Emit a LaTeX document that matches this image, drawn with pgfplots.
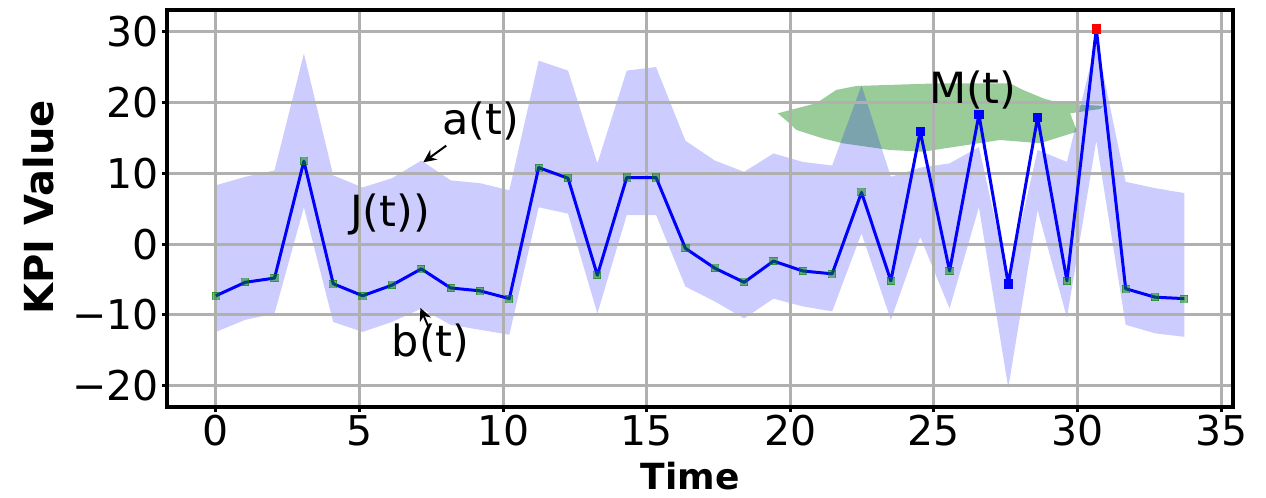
\documentclass[border=0pt]{standalone}
\usepackage{fontspec}
\setmainfont{DejaVu Sans}
\usepackage{pgfplots}
\pgfplotsset{compat=1.18}
\usepackage{pgfplotstable}
\usepgfplotslibrary{fillbetween}
\usetikzlibrary{arrows.meta}

\pgfplotstableread{
x y up lo
0.0000 -7.3 8.3 -12.4
1.0217 -5.4 9.5 -10.7
2.0434 -4.8 10.4 -9.8
3.0651 11.7 26.9 5.2
4.0868 -5.6 9.7 -11.0
5.1085 -7.3 8.0 -12.4
6.1302 -5.8 9.3 -11.0
7.1519 -3.5 11.8 -9.1
8.1736 -6.2 9.0 -11.4
9.1953 -6.6 8.6 -12.1
10.2170 -7.7 7.6 -12.8
11.2387 10.8 25.9 5.2
12.2604 9.3 24.5 4.3
13.2821 -4.4 11.4 -9.8
14.3038 9.4 24.5 4.1
15.3255 9.4 25.0 4.1
16.3472 -0.6 14.6 -6.0
17.3689 -3.4 11.8 -8.1
18.3906 -5.4 10.2 -10.5
19.4123 -2.4 12.8 -7.7
20.4340 -3.8 11.6 -8.8
21.4557 -4.2 11.1 -9.5
22.4774 7.3 22.4 1.5
23.4991 -5.2 9.5 -10.7
24.5208 15.9 10.8 1.0
25.5425 -3.8 11.4 -9.1
26.5642 18.3 13.7 5.2
27.5859 -5.6 -5.0 -20.3
28.6076 17.9 13.3 4.8
29.6293 -5.2 11.6 -10.4
30.6510 30.4 28.7 14.6
31.6727 -6.3 8.8 -11.4
32.6944 -7.5 7.9 -12.6
33.7161 -7.7 7.2 -13.1
}\data

\definecolor{mgreen}{rgb}{0,0.5,0}
\definecolor{gridgray}{RGB}{176,176,176}

\begin{document}
\begin{tikzpicture}
\begin{axis}[
  set layers,
  scale only axis,
  width=532.85pt, height=198.65pt,
  xmin=-1.69, xmax=35.41,
  ymin=-23.05, ymax=33.06,
  xtick={0,5,10,15,20,25,30,35},
  xticklabels={0,5,10,15,20,25,30,35},
  ytick={-20,-10,0,10,20,30},
  yticklabels={−20,−10,0,10,20,30},
  grid=major,
  major grid style={gridgray, line width=1.5pt},
  axis line style={black, line width=2pt},
  tick align=outside,
  major tick length=2.5pt,
  tick style={black, line width=1.5pt},
  xtick pos=bottom, ytick pos=left,
  tick label style={font=\fontsize{20.5}{24}\selectfont},
  yticklabel style={inner sep=0pt, xshift=-1.6pt},
  xticklabel style={inner sep=0pt, yshift=-1.3pt},
  xlabel={Time},
  xlabel style={font=\bfseries\fontsize{18}{21}\selectfont, at={(axis description cs:0.4905,-0.1727)}, anchor=center},
  ylabel={KPI Value},
  ylabel style={font=\bfseries\fontsize{20}{24}\selectfont, at={(axis description cs:-0.121,0.503)}, anchor=center},
]
% green region M(t)
\addplot[draw=none, fill=mgreen, fill opacity=0.4, on layer=axis background] coordinates {
(19.56,18.47) (20.90,19.89) (21.60,21.77) (22.30,22.33) (25.20,22.71) (27.64,22.71)
(28.10,21.77) (28.80,20.59) (29.39,19.89) (30.33,19.65) (30.89,19.5) (30.79,19.08)
(29.74,18.47) (29.98,15.88) (28.69,14.24) (27.30,14.70) (24.61,13.05) (23.46,13.29)
(21.82,14.24) (21.12,14.94) (20.21,16.12) (19.97,17.06)
} -- cycle;
% band
\addplot[draw=none, name path=U, forget plot] table[x=x, y=up] {\data};
\addplot[draw=none, name path=L, forget plot] table[x=x, y=lo] {\data};
\addplot[blue, fill opacity=0.2, draw=none] fill between[of=U and L, on layer=axis background];
% line
\addplot[blue, line width=1.5pt, line join=round, mark=none] table[x=x, y=y] {\data};
% anomaly markers
\addplot[only marks, blue, mark=square*, mark size=2.1pt, mark options={solid, draw=blue, fill=blue},
  skip coords between index={0}{24}, skip coords between index={25}{26},
  skip coords between index={29}{34}] table[x=x, y=y] {\data};
% normal markers
\addplot[only marks, mgreen, mark=square*, mark size=1.8pt, mark options={solid, draw=mgreen, fill=mgreen, opacity=0.5, line width=0pt},
  skip coords between index={24}{25}, skip coords between index={26}{29},
  skip coords between index={30}{31}] table[x=x, y=y] {\data};
% max marker
\addplot[only marks, red, mark=square*, mark size=2.1pt, mark options={solid, draw=red, fill=red},
  skip coords between index={0}{30}, skip coords between index={31}{34}] table[x=x, y=y] {\data};
% annotations
\node[font=\fontsize{21.5}{25}\selectfont, inner sep=0pt] at (axis cs:9.22,17.4) {a(t)};
\node[font=\fontsize{21.5}{25}\selectfont, inner sep=0pt] at (axis cs:6.07,4.15) {J(t))};
\node[font=\fontsize{21.5}{25}\selectfont, inner sep=0pt] at (axis cs:7.48,-13.9) {b(t)};
\node[font=\fontsize{21.5}{25}\selectfont, inner sep=0pt] at (axis cs:26.35,21.8) {M(t)};
\draw[black, line width=1pt, -{Stealth[length=6.5pt, width=6pt]}] (axis cs:8.02,13.9) -- (axis cs:7.22,11.55);
\draw[black, line width=1pt, -{Stealth[length=6.5pt, width=6pt]}] (axis cs:7.40,-11.7) -- (axis cs:7.12,-9.0);
\end{axis}
\path (current axis.south west) ++(-83.65pt,-44.85pt) coordinate (BL);
\path (current axis.north east) ++(16.5pt,5pt) coordinate (TR);
\pgfresetboundingbox
\path[use as bounding box] (BL) rectangle (TR);
\end{tikzpicture}
\end{document}
